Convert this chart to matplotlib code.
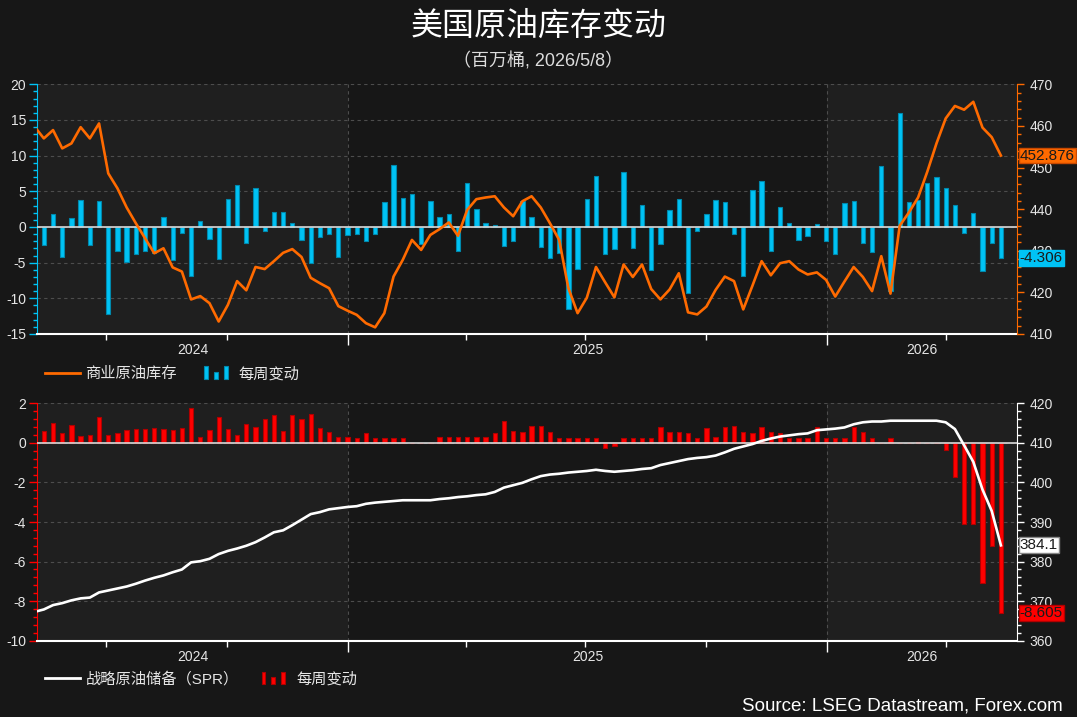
import matplotlib
matplotlib.use("Agg")
import matplotlib.pyplot as plt
import matplotlib.dates as mdates
import matplotlib.transforms as mtransforms
from matplotlib.ticker import MultipleLocator, NullFormatter
from matplotlib.lines import Line2D
from matplotlib.patches import Rectangle
from matplotlib.legend_handler import HandlerBase
import pandas as pd

plt.rcParams["font.family"] = ["Liberation Sans", "Noto Sans CJK SC"]
plt.rcParams["axes.unicode_minus"] = False

# weekly report dates, last one = week ending 2026/5/8
dates = pd.date_range(end="2026-05-13", periods=106, freq="7D")

# commercial crude stocks (mb) and weekly change
commercial = [
    459.8, 457.0, 459.0, 454.6, 455.8, 459.7, 457.0, 460.6, 448.6, 445.0,
    440.4, 436.6, 433.0, 429.4, 430.6, 426.0, 425.0, 418.3, 419.1, 417.4,
    413.0, 417.0, 422.7, 420.5, 426.1, 425.6, 427.5, 429.5, 430.4, 428.5,
    423.5, 422.2, 421.0, 416.7, 415.6, 414.6, 412.6, 411.6, 415.0, 423.8,
    427.8, 432.6, 430.2, 433.8, 435.2, 436.8, 433.6, 439.8, 442.4, 442.8,
    443.1, 440.4, 438.3, 441.9, 443.1, 440.4, 436.6, 432.6, 421.0, 415.0,
    418.7, 426.1, 422.4, 418.8, 426.7, 423.7, 426.7, 420.8, 418.3, 420.7,
    424.6, 415.2, 414.7, 416.6, 420.6, 423.8, 422.7, 415.9, 421.6, 427.5,
    424.1, 427.0, 427.5, 425.5, 424.3, 424.8, 423.0, 419.0, 422.6, 426.1,
    423.7, 420.3, 428.7, 419.7, 436.0, 439.2, 442.8, 449.0, 455.8, 461.8,
    464.8, 463.9, 465.8, 459.6, 457.3, 452.876,
]
commercial_chg = [
    -2.5, 1.8, -4.2, 1.26, 3.8, -2.5, 3.6, -12.2, -3.4, -4.9,
    -3.8, -3.4, -3.7, 1.4, -4.6, -0.85, -6.9, 0.85, -1.7, -4.5,
    3.9, 5.9, -2.2, 5.5, -0.56, 2.1, 2.1, 0.56, -1.8, -5.0,
    -1.4, -1.0, -4.2, -1.1, -1.0, -2.0, -1.0, 3.5, 8.7, 4.1,
    4.6, -2.4, 3.6, 1.4, 1.8, -3.4, 6.2, 2.5, 0.56, 0.28,
    -2.7, -2.0, 3.6, 1.4, -2.8, -4.3, -3.6, -11.5, -5.9, 3.9,
    7.1, -3.8, -3.1, 7.7, -2.9, 3.1, -6.0, -2.4, 2.4, 3.9,
    -9.25, -0.56, 1.8, 3.8, 3.5, -1.0, -6.9, 5.2, 6.45, -3.4,
    2.8, 0.56, -1.8, -1.26, 0.42, -2.0, -3.8, 3.4, 3.6, -2.2,
    -3.5, 8.55, -9.0, 16.0, 3.5, 3.8, 6.2, 7.0, 5.5, 3.1,
    -0.84, 1.96, -6.2, -2.2, -4.306,
]

# strategic petroleum reserve (mb) and weekly change
spr = [
    367.3, 367.9, 369.0, 369.5, 370.2, 370.7, 370.9, 372.2, 372.7, 373.2,
    373.7, 374.4, 375.2, 375.9, 376.5, 377.3, 378.0, 379.8, 380.1, 380.7,
    381.9, 382.7, 383.3, 384.0, 384.9, 386.1, 387.4, 387.9, 389.2, 390.6,
    392.0, 392.5, 393.2, 393.5, 393.8, 394.0, 394.6, 394.9, 395.1, 395.3,
    395.5, 395.5, 395.5, 395.5, 395.8, 396.0, 396.3, 396.5, 396.8, 397.0,
    397.6, 398.7, 399.3, 399.9, 400.8, 401.6, 402.0, 402.2, 402.5, 402.7,
    402.9, 403.2, 402.9, 402.7, 402.9, 403.1, 403.4, 403.6, 404.4, 404.9,
    405.4, 405.9, 406.2, 406.4, 406.8, 407.6, 408.5, 409.1, 409.7, 410.5,
    411.1, 411.6, 411.9, 412.2, 412.4, 413.2, 413.4, 413.6, 413.9, 414.7,
    415.2, 415.4, 415.4, 415.6, 415.6, 415.6, 415.6, 415.6, 415.6, 415.2,
    413.5, 409.4, 405.2, 398.2, 392.8, 384.1,
]
spr_chg = [
    0.61, 1.01, 0.51, 0.91, 0.35, 0.40, 1.31, 0.40, 0.51, 0.66,
    0.71, 0.71, 0.76, 0.71, 0.66, 0.76, 1.77, 0.30, 0.66, 1.31,
    0.71, 0.40, 0.96, 0.81, 1.21, 1.42, 0.61, 1.42, 1.21, 1.47,
    0.76, 0.56, 0.30, 0.30, 0.25, 0.51, 0.25, 0.25, 0.25, 0.25,
    0.0, 0.0, 0.0, 0.30, 0.30, 0.30, 0.30, 0.30, 0.30, 0.51,
    1.11, 0.61, 0.56, 0.86, 0.86, 0.56, 0.25, 0.25, 0.25, 0.25,
    0.25, -0.25, -0.15, 0.25, 0.25, 0.25, 0.25, 0.81, 0.56, 0.56,
    0.51, 0.25, 0.76, 0.30, 0.81, 0.86, 0.56, 0.51, 0.81, 0.56,
    0.51, 0.25, 0.25, 0.25, 0.81, 0.25, 0.25, 0.25, 0.81, 0.56,
    0.25, 0.0, 0.25, 0.0, 0.0, 0.05, 0.0, 0.0, -0.35, -1.72,
    -4.1, -4.1, -7.08, -5.21, -8.605,
]

BG = "#171717"
BAND = "#1f1f1f"
CYAN = "#00c3f5"
CYAN_EDGE = "#0089ad"
ORANGE = "#ff6a00"
RED = "#ff0000"
RED_EDGE = "#b00000"
TXT = "#e6e6e6"
GRID = "#4d4d4d"

x = mdates.date2num(dates)
xb = x[1:]
x0 = mdates.date2num(pd.Timestamp("2024-05-10"))
x1 = mdates.date2num(pd.Timestamp("2026-05-25"))
jan25 = mdates.date2num(pd.Timestamp("2025-01-01"))
jan26 = mdates.date2num(pd.Timestamp("2026-01-01"))


class ThreeBars(HandlerBase):
    # legend icon: three little bars
    def __init__(self, face, edge):
        super().__init__()
        self.face, self.edge = face, edge

    def create_artists(self, legend, orig_handle, xdescent, ydescent,
                       width, height, fontsize, trans):
        arts = []
        for frac, hf in ((0.17, 1.2), (0.45, 0.72), (0.73, 1.2)):
            arts.append(Rectangle((width * frac - xdescent, -ydescent - height * 0.1),
                                  width * 0.11, height * hf, facecolor=self.face,
                                  edgecolor=self.edge, lw=0.8, transform=trans))
        return arts


def tag(ax_top, ax_data, y, text, fc, ec):
    # value box at the right edge, drawn on the twin so it sits over tick labels
    tr = mtransforms.blended_transform_factory(ax_top.transAxes, ax_data.transData)
    ax_top.text(1.003, y, text, transform=tr, ha="left", va="center", fontsize=11,
                color="#1a1a1a", clip_on=False, zorder=10,
                bbox=dict(boxstyle="square,pad=0.06", fc=fc, ec=ec, lw=1))


def panel(ax, chg, level, face, edge, line_color, lcol, rcol,
          ylim_l, ylim_r, step_l, minor_l, label_y):
    ax.set_facecolor(BG)
    ax.axvspan(x0, jan25, color=BAND, zorder=0, lw=0)
    ax.axvspan(jan26, x1, color=BAND, zorder=0, lw=0)
    ax.bar(xb, chg, width=3.3, color=face, edgecolor=edge, linewidth=0.8, zorder=3)
    ax.axhline(0, color="#d8d8d8", lw=1.2, zorder=3.5)
    ax.set_xlim(x0, x1)
    ax.set_ylim(*ylim_l)
    ax.yaxis.set_major_locator(MultipleLocator(step_l))
    ax.yaxis.set_minor_locator(MultipleLocator(minor_l))
    ax.grid(True, which="major", ls=(0, (3, 3)), color=GRID, lw=0.8)
    ax.set_axisbelow(True)

    ax.xaxis.set_major_locator(mdates.YearLocator())
    ax.xaxis.set_minor_locator(mdates.MonthLocator(bymonth=[1, 4, 7, 10]))
    ax.xaxis.set_major_formatter(NullFormatter())
    ax.tick_params(axis="x", which="major", length=8, width=1, color="white")
    ax.tick_params(axis="x", which="minor", length=4, width=1, color="white")
    ax.tick_params(axis="y", which="both", color=lcol, labelcolor=TXT,
                   labelsize=10, width=1, pad=2)
    ax.tick_params(axis="y", which="major", length=6)
    ax.tick_params(axis="y", which="minor", length=3)
    for s in ("top", "right"):
        ax.spines[s].set_visible(False)
    ax.spines["left"].set_color(lcol)
    ax.spines["bottom"].set_color("white")
    ax.spines["bottom"].set_linewidth(1.5)

    tr = mtransforms.blended_transform_factory(ax.transData, ax.transAxes)
    for a, b, lab in ((x0, jan25, "2024"), (jan25, jan26, "2025"), (jan26, x1, "2026")):
        ax.text((a + b) / 2, label_y, lab, transform=tr, ha="center", va="center",
                fontsize=10, color=TXT)

    axr = ax.twinx()
    axr.plot(x, level, color=line_color, lw=1.9, zorder=4)
    axr.set_ylim(*ylim_r)
    axr.yaxis.set_major_locator(MultipleLocator(10))
    axr.yaxis.set_minor_locator(MultipleLocator(2))
    axr.tick_params(axis="y", which="both", color=rcol, labelcolor=TXT,
                    labelsize=10, width=1, pad=4)
    axr.tick_params(axis="y", which="major", length=5)
    axr.tick_params(axis="y", which="minor", length=3)
    for s in ("top", "left", "bottom"):
        axr.spines[s].set_visible(False)
    axr.spines["right"].set_color(rcol)
    return axr


fig = plt.figure(figsize=(10.77, 7.17), dpi=100, facecolor=BG)
ax1 = fig.add_axes([0.0346, 0.5342, 0.9094, 0.3482])
ax2 = fig.add_axes([0.0346, 0.1064, 0.9094, 0.3311])

ax1r = panel(ax1, commercial_chg, commercial, CYAN, CYAN_EDGE, ORANGE, CYAN, ORANGE,
             (-15, 20), (410, 470), 5, 1, -0.064)
ax2r = panel(ax2, spr_chg, spr, RED, RED_EDGE, "white", RED, "white",
             (-10, 2), (360, 420), 2, 0.4, -0.068)

tag(ax1r, ax1r, commercial[-1], f"{commercial[-1]:.3f}", ORANGE, "#c84800")
tag(ax1r, ax1, commercial_chg[-1], f"{commercial_chg[-1]:.3f}", CYAN, CYAN)
tag(ax2r, ax2r, spr[-1], f"{spr[-1]:.1f}", "white", "#888888")
tag(ax2r, ax2, spr_chg[-1], f"{spr_chg[-1]:.3f}", RED, RED_EDGE)

# legends
bars_top = Rectangle((0, 0), 1, 1)
fig.legend([Line2D([], [], color=ORANGE, lw=2), bars_top], ["商业原油库存", "每周变动"],
           handler_map={bars_top: ThreeBars(CYAN, CYAN_EDGE)},
           loc="center left", bbox_to_anchor=(45 / 1077, 1 - 374 / 717), ncol=2,
           frameon=False, fontsize=11, handlelength=2.3, handletextpad=0.35,
           columnspacing=1.4, borderpad=0, borderaxespad=0, labelcolor=TXT)
bars_bot = Rectangle((0, 0), 1, 1)
fig.legend([Line2D([], [], color="white", lw=2), bars_bot], ["战略原油储备（SPR）", "每周变动"],
           handler_map={bars_bot: ThreeBars(RED, RED_EDGE)},
           loc="center left", bbox_to_anchor=(45 / 1077, 1 - 679 / 717), ncol=2,
           frameon=False, fontsize=11, handlelength=2.3, handletextpad=0.35,
           columnspacing=1.1, borderpad=0, borderaxespad=0, labelcolor=TXT)

fig.text(0.5, 1 - 27 / 717, "美国原油库存变动", ha="center", va="center",
         fontsize=23, fontweight="medium", color="white")
fig.text(0.5, 1 - 61 / 717, "（百万桶, 2026/5/8）", ha="center", va="center",
         fontsize=13, color="#dddddd")
fig.text(1063 / 1077, 1 - 706 / 717, "Source: LSEG Datastream, Forex.com",
         ha="right", va="center", fontsize=13.5, color="white")

fig.savefig("out.png", dpi=100, facecolor=BG)
